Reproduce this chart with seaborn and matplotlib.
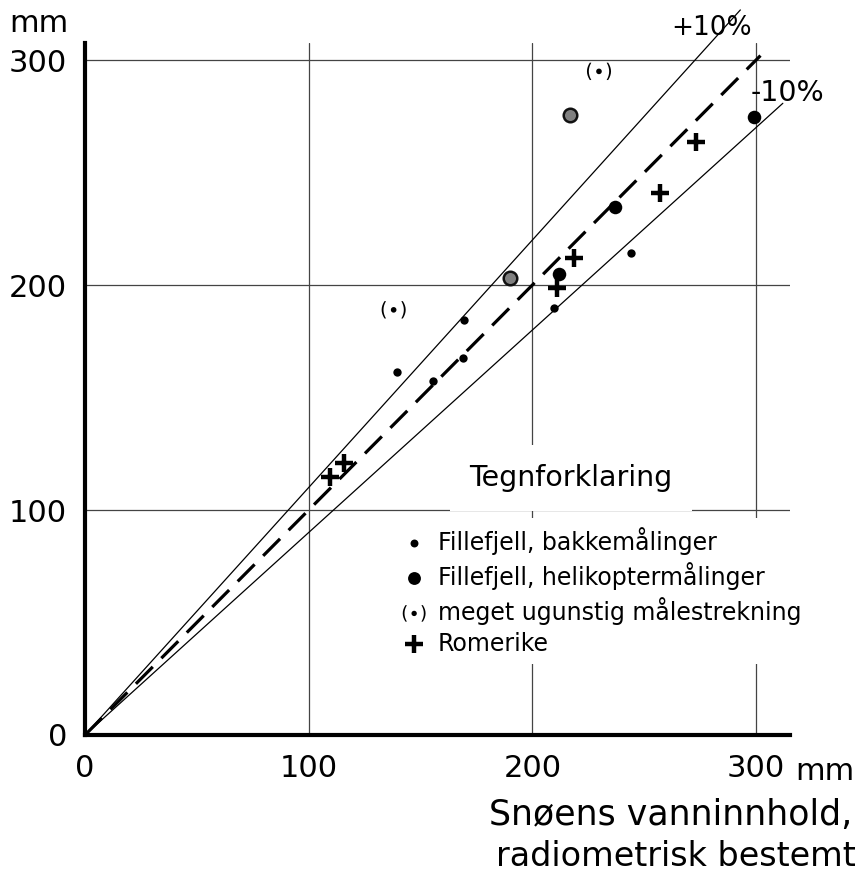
import matplotlib
matplotlib.use("Agg")
import matplotlib.pyplot as plt
import seaborn as sns

# Fillefjell, bakkemålinger (small dots)
bakke_x = [139.5, 155.6, 169.0, 169.4, 209.6, 244.3]
bakke_y = [161.3, 157.3, 167.6, 184.4, 190.0, 214.4]

# Fillefjell, helikoptermålinger (large dots)
heli_x = [212.0, 237.0, 299.0]
heli_y = [205.0, 234.7, 274.7]
# helicopter points printed greyish in the original
heli_grey_x = [190.0, 217.0]
heli_grey_y = [203.0, 275.6]

# meget ugunstig målestrekning
ugunstig_x = [138.0, 229.8]
ugunstig_y = [189.0, 295.0]

# Romerike (crosses)
romerike_x = [109.5, 115.8, 211.0, 218.6, 257.0, 273.0]
romerike_y = [114.7, 120.9, 198.7, 212.0, 241.0, 263.6]

# reference lines: 1:1, +10 %, -10 %
linje_1_x = [0, 302]
linje_1_y = [0, 302]
pluss_x = [0, 293]
pluss_y = [0, 322.3]
minus_x = [0, 312]
minus_y = [0, 280.8]

ticks = [0, 100, 200, 300]
tick_labels = ["0", "100", "200", "300"]

sns.set_style("white")
plt.rcParams["font.family"] = ["DejaVu Sans"]
plt.rcParams["text.color"] = "black"
plt.rcParams["xtick.color"] = "black"
plt.rcParams["ytick.color"] = "black"

fig = plt.figure(figsize=(8.6, 8.77), dpi=100)
ax = fig.add_axes([85 / 860, 1 - 735 / 877, 705 / 860, 692 / 877])

sns.lineplot(x=linje_1_x, y=linje_1_y, ax=ax, color="black", lw=2.3,
             linestyle=(0, (7.5, 3.8)), zorder=2)
sns.lineplot(x=pluss_x, y=pluss_y, ax=ax, color="black", lw=0.9, zorder=2)
sns.lineplot(x=minus_x, y=minus_y, ax=ax, color="black", lw=0.9, zorder=2)
for ln in ax.lines:
    ln.set_clip_on(False)

sns.scatterplot(x=bakke_x, y=bakke_y, ax=ax, marker="o", s=36, color="black",
                edgecolor="black", linewidth=0, label="Fillefjell, bakkemålinger", zorder=4)
sns.scatterplot(x=heli_x, y=heli_y, ax=ax, marker="o", s=95, color="black",
                edgecolor="black", linewidth=0, label="Fillefjell, helikoptermålinger", zorder=4)
sns.scatterplot(x=heli_grey_x, y=heli_grey_y, ax=ax, marker="o", s=95, color="#808080",
                edgecolor="#111111", linewidth=1.8, zorder=4)
sns.scatterplot(x=ugunstig_x, y=ugunstig_y, ax=ax, marker=r"$(\bullet)$", s=300,
                color="black", edgecolor="none", linewidth=0,
                label="meget ugunstig målestrekning", zorder=4)
sns.scatterplot(x=romerike_x, y=romerike_y, ax=ax, marker="+", s=170, color="black",
                linewidth=3.2, label="Romerike", zorder=4)

ax.set_xlim(0, 315.2)
ax.set_ylim(0, 307.6)
ax.set_xticks(ticks)
ax.set_xticklabels(tick_labels)
ax.set_yticks(ticks)
ax.set_yticklabels(tick_labels)
ax.grid(True, color="#444444", lw=0.9)
ax.set_axisbelow(True)
ax.tick_params(axis="both", length=5, width=1, color="#444444",
               labelcolor="black", labelsize=22)
ax.tick_params(axis="x", pad=9)
ax.tick_params(axis="y", pad=8)
for side in ["top", "right"]:
    ax.spines[side].set_visible(False)
for side in ["left", "bottom"]:
    ax.spines[side].set_linewidth(3)
    ax.spines[side].set_color("black")

leg = ax.legend(loc="upper left", bbox_to_anchor=(0.42, 0.33), frameon=True,
                fontsize=17, handletextpad=0.45, labelspacing=0.3,
                borderpad=0.35, handlelength=1.1, markerscale=0.95)
leg.get_frame().set_facecolor("white")
leg.get_frame().set_edgecolor("none")
leg.get_frame().set_alpha(1)
leg.set_zorder(5)
for t in leg.get_texts():
    t.set_color("black")

# legend heading, its white box hides the 100 mm grid line as in the original
ax.text((571 - 85) / 705, (735 - 478) / 692, "Tegnforklaring",
        transform=ax.transAxes, fontsize=20.5, ha="center", va="center", zorder=6,
        bbox=dict(facecolor="white", edgecolor="none", pad=14))

fig.text(752 / 860, 1 - 28 / 877, "+10%", fontsize=19, ha="right", va="center")
fig.text(787 / 860, 1 - 93 / 877, "-10%", fontsize=20.5, ha="center", va="center")

fig.text(9 / 860, 1 - 24 / 877, "mm", fontsize=22, ha="left", va="center")
fig.text(795 / 860, 1 - 772 / 877, "mm", fontsize=22, ha="left", va="center")
fig.text(852 / 860, 1 - 815 / 877, "Snøens vanninnhold,", fontsize=25,
         ha="right", va="center")
fig.text(856 / 860, 1 - 857 / 877, "radiometrisk bestemt", fontsize=24,
         ha="right", va="center")

fig.savefig("out.png", dpi=100, facecolor="white")
